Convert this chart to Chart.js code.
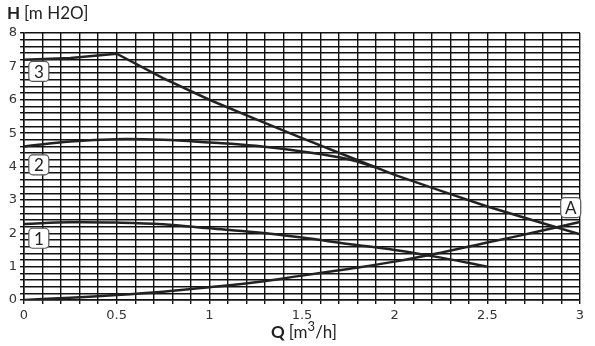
<!DOCTYPE html>
<html>
<head>
<meta charset="utf-8">
<script src="https://cdn.jsdelivr.net/npm/chart.js@4/dist/chart.umd.min.js"></script>
<style>
  html, body { margin: 0; padding: 0; background: #fff; }
  #wrap { width: 595px; height: 346px; position: relative; }
</style>
</head>
<body>
<div id="wrap"><canvas id="pumpChart"></canvas></div>
<script>
// flow values (m3/h) and heads (m H2O)
const qSteps = [0, 0.25, 0.5, 0.75, 1, 1.25, 1.5, 1.75, 2, 2.25, 2.5, 2.75, 3];
const curve3 = [7.2, 7.25, 7.38, 6.65, 6.0, 5.42, 4.85, 4.3, 3.75, 3.27, 2.8, 2.38, 1.97];
const curve1 = [2.28, 2.33, 2.32, 2.27, 2.15, 2.03, 1.87, 1.68, 1.5, 1.27, 1.0];
const curveA = [0, 0.07, 0.15, 0.25, 0.38, 0.53, 0.73, 0.93, 1.15, 1.42, 1.72, 2.02, 2.34];
const q2 = [0, 0.25, 0.5, 0.75, 1, 1.25, 1.5, 1.75, 1.9];
const curve2 = [4.6, 4.75, 4.82, 4.8, 4.72, 4.62, 4.45, 4.22, 3.97];

// curve name tags and where they sit
const tagNames = ['3', '2', '1', 'A'];
const tagQ = [0.08, 0.08, 0.08, 2.95];
const tagH = [6.85, 4.05, 1.85, 2.77];

const xTicks = [0, 0.5, 1, 1.5, 2, 2.5, 3];
const yTicks = [0, 1, 2, 3, 4, 5, 6, 7, 8];

function toPoints(xs, ys) {
    return ys.map((y, i) => ({ x: xs[i], y: y }));
}

function isMajor(v, list) {
    return list.some(t => Math.abs(t - v) < 1e-6);
}

// draws the boxed curve names and the two axis titles
const tagPlugin = {
    id: 'tags',
    afterDatasetsDraw(chart) {
        const ctx = chart.ctx;
        const xs = chart.scales.x, ys = chart.scales.y;
        ctx.save();
        tagNames.forEach((name, i) => {
            const cx = xs.getPixelForValue(tagQ[i]);
            const cy = ys.getPixelForValue(tagH[i]);
            const w = 20, h = 20;
            ctx.beginPath();
            ctx.roundRect(cx - w / 2, cy - h / 2, w, h, 4);
            ctx.fillStyle = '#fff';
            ctx.fill();
            ctx.lineWidth = 1.2;
            ctx.strokeStyle = '#555';
            ctx.stroke();
            ctx.fillStyle = '#222';
            ctx.font = '17px Lato';
            ctx.textAlign = 'center';
            ctx.textBaseline = 'middle';
            ctx.fillText(name, cx, cy + 1);
        });

        // y title: H [m H2O]
        ctx.textAlign = 'left';
        ctx.textBaseline = 'alphabetic';
        ctx.fillStyle = '#222';
        ctx.font = 'bold 17px Lato';
        ctx.fillText('H', 7, 19);
        let x = 7 + ctx.measureText('H').width + 4;
        ctx.font = '17px Lato';
        ctx.fillText('[m H2O]', x, 19);

        // x title: Q [m3/h]
        ctx.font = 'bold 17px Lato';
        const qw = ctx.measureText('Q ').width;
        ctx.font = '17px Lato';
        const a = ctx.measureText('[m').width;
        ctx.font = '13px Lato';
        const b = ctx.measureText('3').width;
        ctx.font = '17px Lato';
        const c = ctx.measureText('/h]').width;
        x = 304 - (qw + a + b + c) / 2;
        const base = 338;
        ctx.font = 'bold 17px Lato';
        ctx.fillText('Q', x, base);
        x += qw;
        ctx.font = '17px Lato';
        ctx.fillText('[m', x, base);
        x += a;
        ctx.font = '13px Lato';
        ctx.fillText('3', x, base - 7);
        x += b;
        ctx.font = '17px Lato';
        ctx.fillText('/h]', x, base);
        ctx.restore();
    }
};

const lineStyle = {
    borderColor: '#222',
    borderWidth: 2.5,
    pointRadius: 0,
    fill: false
};

new Chart(document.getElementById('pumpChart'), {
    type: 'line',
    data: {
        datasets: [
            Object.assign({ label: '3', data: toPoints(qSteps, curve3), tension: 0 }, lineStyle),
            Object.assign({ label: '2', data: toPoints(q2, curve2), tension: 0.4 }, lineStyle),
            Object.assign({ label: '1', data: toPoints(qSteps, curve1), tension: 0.4 }, lineStyle),
            Object.assign({ label: 'A', data: toPoints(qSteps, curveA), tension: 0.4 }, lineStyle)
        ]
    },
    options: {
        responsive: true,
        maintainAspectRatio: false,
        animation: false,
        layout: { padding: { top: 33, right: 15, left: 0, bottom: 0 } },
        plugins: {
            legend: { display: false },
            tooltip: { enabled: false }
        },
        scales: {
            x: {
                type: 'linear',
                min: 0,
                max: 3,
                afterFit: s => { s.height = 46; },
                border: { color: '#111', width: 1.5 },
                grid: { color: '#111', lineWidth: 1.4, tickLength: 4 },
                ticks: {
                    stepSize: 0.1,
                    autoSkip: false,
                    maxRotation: 0,
                    padding: 4,
                    color: '#333',
                    font: { family: 'DejaVu Sans', size: 13 },
                    callback: v => isMajor(v, xTicks) ? String(Math.round(v * 10) / 10) : ''
                }
            },
            y: {
                min: 0,
                max: 8,
                afterFit: s => { s.width = 24; },
                border: { color: '#111', width: 1.5 },
                grid: { color: '#111', lineWidth: 1.4, tickLength: 4 },
                ticks: {
                    stepSize: 0.2,
                    autoSkip: false,
                    padding: 3,
                    color: '#333',
                    font: { family: 'DejaVu Sans', size: 13 },
                    callback: v => isMajor(v, yTicks) ? String(Math.round(v)) : ''
                }
            }
        }
    },
    plugins: [tagPlugin]
});
</script>
</body>
</html>
